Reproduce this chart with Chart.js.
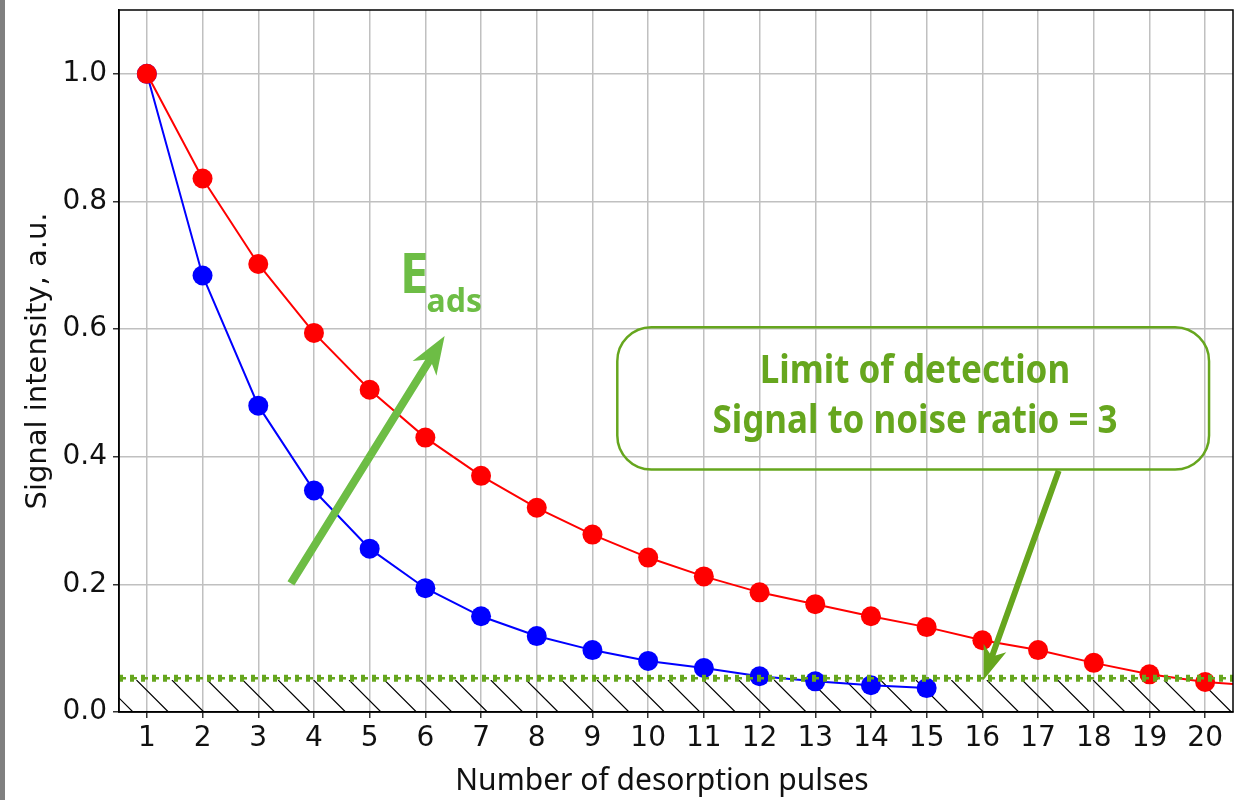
<!DOCTYPE html>
<html>
<head>
<meta charset="utf-8">
<title>Signal decay with desorption pulses</title>
<script src="https://cdn.jsdelivr.net/npm/chart.js@4"></script>
<style>
  html, body { margin: 0; padding: 0; background: #fff; }
  #wrap { position: relative; width: 1243px; height: 800px; }
  #edge { position: absolute; left: 0; top: 0; width: 5px; height: 800px; background: #808080; }
</style>
</head>
<body>
<div id="wrap">
  <canvas id="decayChart" width="1243" height="800"></canvas>
  <div id="edge"></div>
</div>
<script>
// pulse number and normalised signal measured after each pulse
const pulses = [1, 2, 3, 4, 5, 6, 7, 8, 9, 10, 11, 12, 13, 14, 15, 16, 17, 18, 19, 20, 21];
const strongBinding = [1.0, 0.836, 0.702, 0.594, 0.505, 0.430, 0.370, 0.320, 0.278, 0.242,
                       0.2125, 0.1875, 0.169, 0.150, 0.133, 0.1125, 0.097, 0.077, 0.059, 0.047, 0.041];
const weakBinding = [1.0, 0.684, 0.480, 0.347, 0.256, 0.194, 0.150, 0.119, 0.097, 0.080,
                     0.069, 0.056, 0.048, 0.042, 0.0375];

const xTicks = [1, 2, 3, 4, 5, 6, 7, 8, 9, 10, 11, 12, 13, 14, 15, 16, 17, 18, 19, 20];
const yTicks = [0.0, 0.2, 0.4, 0.6, 0.8, 1.0];

const detectionLimit = 0.053;   // dotted green line
const noiseFloor = 0.05;        // top of hatched band

// annotation geometry, in data units
const notes = {
  eadsArrow: { from: [3.586, 0.2016], to: [6.346, 0.589] },
  eadsLabel: [5.54, 0.656],
  box: { x0: 9.446, x1: 20.07, y0: 0.603, y1: 0.380 },
  boxLines: ['Limit of detection', 'Signal to noise ratio = 3'],
  boxText: [14.79, 0.515, 0.437],
  lodArrow: { from: [17.37, 0.378], to: [16.02, 0.05] }
};

const LIGHT_GREEN = '#6dbd45';
const DARK_GREEN = '#66a61e';

function arrow(ctx, x0, y0, x1, y1, shaft, headLen, headW, color) {
  const ang = Math.atan2(y1 - y0, x1 - x0);
  const len = Math.hypot(x1 - x0, y1 - y0);
  const join = len - headLen * 0.8;
  ctx.save();
  ctx.translate(x0, y0);
  ctx.rotate(ang);
  ctx.fillStyle = color;
  ctx.beginPath();
  ctx.moveTo(0, -shaft / 2);
  ctx.lineTo(join, -shaft / 2);
  ctx.lineTo(len - headLen, -headW / 2);
  ctx.lineTo(len, 0);
  ctx.lineTo(len - headLen, headW / 2);
  ctx.lineTo(join, shaft / 2);
  ctx.lineTo(0, shaft / 2);
  ctx.closePath();
  ctx.fill();
  ctx.restore();
}

function narrowText(ctx, text, x, y, sx, align) {
  ctx.save();
  ctx.translate(x, y);
  ctx.scale(sx, 1);
  ctx.textAlign = align;
  ctx.fillText(text, 0, 0);
  ctx.restore();
}

const overlay = {
  id: 'overlay',
  beforeDatasetsDraw(chart) {
    const { ctx, chartArea: a, scales: { y } } = chart;
    const top = y.getPixelForValue(noiseFloor);
    const bottom = y.getPixelForValue(0);
    const h = bottom - top;
    const step = 35.43;
    ctx.save();
    ctx.beginPath();
    ctx.rect(a.left, top, a.right - a.left, h);
    ctx.clip();
    ctx.strokeStyle = '#000';
    ctx.lineWidth = 1.2;
    ctx.beginPath();
    for (let px = a.left + 17.5 - step * 2; px < a.right; px += step) {
      ctx.moveTo(px, top);
      ctx.lineTo(px + h, bottom);
    }
    ctx.stroke();
    ctx.restore();
  },
  afterDatasetsDraw(chart) {
    const { ctx, chartArea: a, scales: { x, y } } = chart;
    const px = v => x.getPixelForValue(v);
    const py = v => y.getPixelForValue(v);

    // detection limit line
    const ly = py(detectionLimit);
    ctx.save();
    ctx.strokeStyle = DARK_GREEN;
    ctx.lineWidth = 2.5;
    ctx.setLineDash([7, 4]);
    ctx.beginPath(); ctx.moveTo(a.left, ly); ctx.lineTo(a.right, ly); ctx.stroke();
    ctx.lineWidth = 7;
    ctx.setLineDash([4, 7]);
    ctx.beginPath(); ctx.moveTo(a.left, ly); ctx.lineTo(a.right, ly); ctx.stroke();
    ctx.restore();

    // E_ads arrow and label
    const ea = notes.eadsArrow;
    arrow(ctx, px(ea.from[0]), py(ea.from[1]), px(ea.to[0]), py(ea.to[1]), 8, 38, 28, LIGHT_GREEN);
    ctx.save();
    ctx.fillStyle = LIGHT_GREEN;
    ctx.textBaseline = 'alphabetic';
    ctx.font = 'bold 56px "Noto Sans"';
    const ex = px(notes.eadsLabel[0]), ey = py(notes.eadsLabel[1]);
    narrowText(ctx, 'E', ex, ey, 0.92, 'left');
    const ew = ctx.measureText('E').width * 0.92;
    ctx.font = 'bold 32px "Noto Sans"';
    narrowText(ctx, 'ads', ex + ew - 2, ey + 19, 1.0, 'left');
    ctx.restore();

    // limit of detection callout
    const b = notes.box;
    ctx.save();
    ctx.strokeStyle = DARK_GREEN;
    ctx.lineWidth = 2.5;
    ctx.beginPath();
    ctx.roundRect(px(b.x0), py(b.y0), px(b.x1) - px(b.x0), py(b.y1) - py(b.y0), 34);
    ctx.stroke();
    ctx.fillStyle = DARK_GREEN;
    ctx.font = 'bold 40px "Noto Sans"';
    ctx.textBaseline = 'alphabetic';
    const sx = 405 / ctx.measureText(notes.boxLines[1]).width;
    const cx = px(notes.boxText[0]);
    narrowText(ctx, notes.boxLines[0], cx, py(notes.boxText[1]), sx, 'center');
    narrowText(ctx, notes.boxLines[1], cx, py(notes.boxText[2]), sx, 'center');
    ctx.restore();

    const la = notes.lodArrow;
    arrow(ctx, px(la.from[0]), py(la.from[1]), px(la.to[0]), py(la.to[1]), 6, 34, 24, DARK_GREEN);
  },
  afterDraw(chart) {
    const { ctx, chartArea: a } = chart;
    ctx.save();
    ctx.strokeStyle = '#000';
    ctx.lineWidth = 1.5;
    ctx.strokeRect(a.left, a.top, a.right - a.left, a.bottom - a.top);

    // x axis title, sits a little left of the plot centre
    ctx.fillStyle = '#111';
    ctx.font = '30px "Noto Sans"';
    ctx.textAlign = 'center';
    ctx.textBaseline = 'alphabetic';
    ctx.fillText('Number of desorption pulses', (a.left + a.right) / 2 - 14, 790);
    ctx.restore();
  }
};

const tickFont = { family: 'DejaVu Sans', size: 28 };

new Chart(document.getElementById('decayChart').getContext('2d'), {
  type: 'line',
  data: {
    datasets: [
      {
        label: 'strong',
        data: strongBinding.map((v, i) => ({ x: pulses[i], y: v })),
        borderColor: '#ff0000',
        pointBackgroundColor: '#ff0000',
        pointBorderWidth: 0,
        pointRadius: 10,
        borderWidth: 2,
        tension: 0,
        clip: { left: 15, top: 15, right: 0, bottom: 15 }
      },
      {
        label: 'weak',
        data: weakBinding.map((v, i) => ({ x: pulses[i], y: v })),
        borderColor: '#0000ff',
        pointBackgroundColor: '#0000ff',
        pointBorderWidth: 0,
        pointRadius: 10,
        borderWidth: 2,
        tension: 0
      }
    ]
  },
  options: {
    responsive: false,
    devicePixelRatio: 1,
    animation: false,
    layout: { padding: { top: 9, right: 8, left: 0, bottom: 0 } },
    plugins: { legend: { display: false }, tooltip: { enabled: false } },
    scales: {
      x: {
        type: 'linear',
        min: 0.5,
        max: 20.5,
        afterBuildTicks: s => { s.ticks = xTicks.map(v => ({ value: v })); },
        afterFit: s => { s.height = 88; },
        grid: { color: '#c0c0c0', lineWidth: 1.5, tickLength: 6, tickColor: '#333' },
        border: { color: '#000', width: 1.5 },
        ticks: { font: tickFont, color: '#111', padding: 4, maxRotation: 0, autoSkip: false }
      },
      y: {
        type: 'linear',
        min: 0,
        max: 1.1,
        afterBuildTicks: s => { s.ticks = yTicks.map(v => ({ value: v })); },
        afterFit: s => { s.width = 119; s.paddingTop = 0; s.paddingBottom = 0; },
        grid: { color: '#c0c0c0', lineWidth: 1.5, tickLength: 6, tickColor: '#333' },
        border: { color: '#000', width: 1.5 },
        ticks: { font: tickFont, color: '#111', padding: 6, callback: v => v.toFixed(1) },
        title: {
          display: true,
          text: 'Signal intensity, a.u.',
          font: { family: 'DejaVu Sans', size: 29 },
          color: '#111',
          padding: { top: 21, bottom: 0 }
        }
      }
    }
  },
  plugins: [overlay]
});
</script>
</body>
</html>
